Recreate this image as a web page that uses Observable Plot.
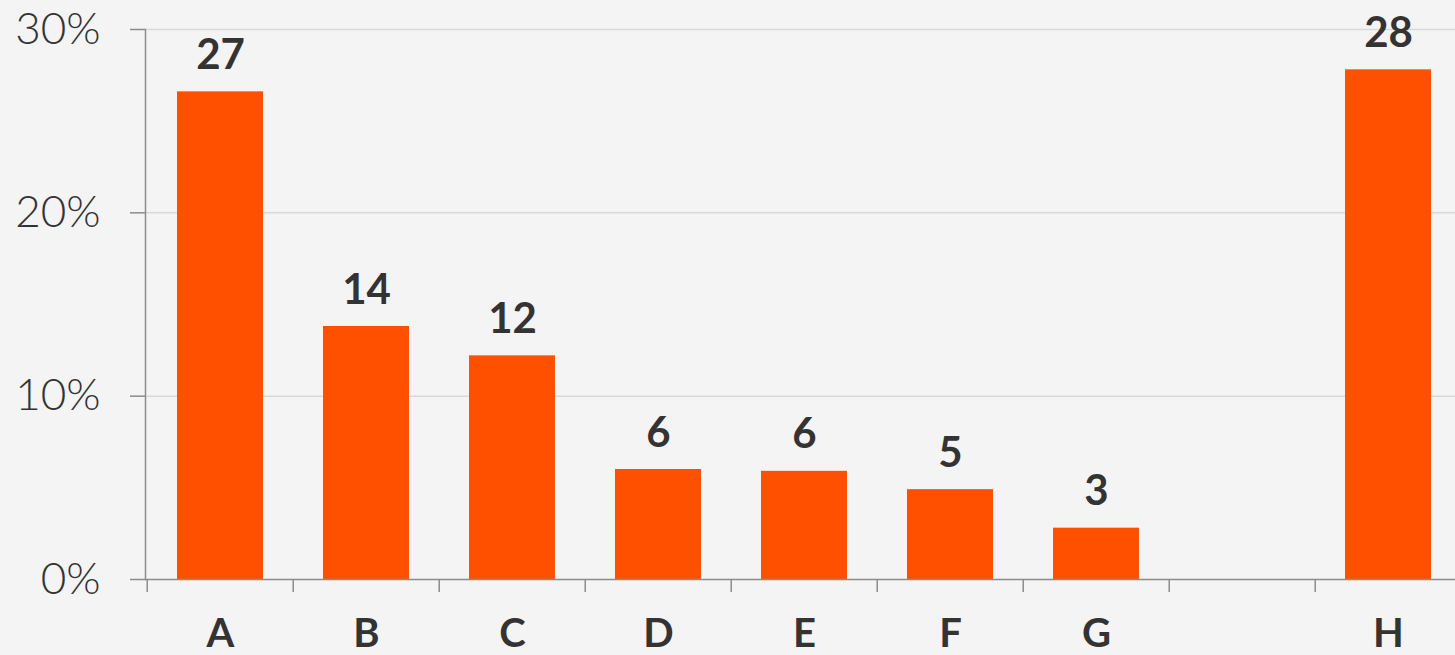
<!DOCTYPE html>
<html>
<head>
<meta charset="utf-8">
<script src="https://cdn.jsdelivr.net/npm/d3@7"></script>
<script src="https://cdn.jsdelivr.net/npm/@observablehq/plot@0.6"></script>
<style>
  html, body { margin: 0; padding: 0; background: #f4f4f4; overflow: hidden; width: 1455px; height: 655px; }
  #chart svg { display: block; max-width: none !important; }
</style>
</head>
<body>
<div id="chart"></div>
<script>
const categories = ["A", "B", "C", "D", "E", "F", "G", "", "H"];
const barCategories = ["A", "B", "C", "D", "E", "F", "G", "H"];
const values = [26.6, 13.8, 12.2, 6.0, 5.9, 4.9, 2.8, 27.8];
const labels = ["27", "14", "12", "6", "6", "5", "3", "28"];
const yTicks = [0, 10, 20, 30];
const gridTicks = [10, 20, 30];

const data = barCategories.map((c, i) => ({cat: c, value: values[i], label: labels[i]}));

const W = 1470, ML = 145, MR = 6;
const step = (W - ML - MR) / categories.length;

const chart = Plot.plot({
  width: W,
  height: 655,
  marginLeft: ML,
  marginRight: MR,
  marginTop: 29,
  marginBottom: 76,
  style: {background: "transparent", fontFamily: "Lato, 'Open Sans', sans-serif", color: "#333", maxWidth: "none"},
  x: {domain: categories, paddingInner: 0.41, paddingOuter: 0.205, label: null},
  y: {domain: [0, 30], label: null},
  marks: [
    Plot.gridY(gridTicks, {stroke: "#d9d9d9", strokeOpacity: 1, strokeWidth: 1.5}),
    Plot.frame({anchor: "left", stroke: "#8c8c8c", strokeWidth: 1.5}),
    Plot.axisY(yTicks, {tickSize: 15, fill: "none", stroke: "#8c8c8c", strokeWidth: 1.5, label: null, tickFormat: d => d + "%"}),
    Plot.axisY(yTicks, {tickSize: 0, tickPadding: 45, fill: "#333", fontSize: 44, fontWeight: 300, label: null, tickFormat: d => d + "%"}),
    Plot.barY(data, {x: "cat", y: "value", fill: "#ff5000"}),
    Plot.ruleY([0], {stroke: "#8c8c8c", strokeWidth: 1.5}),
    Plot.axisX(categories, {tickSize: 13, fill: "none", stroke: "#8c8c8c", strokeWidth: 1.5, label: null, dx: -step / 2}),
    Plot.axisX(categories, {tickSize: 0, tickPadding: 39, fill: "#333", fontSize: 40, fontWeight: "bold", label: null}),
    Plot.text(data, {x: "cat", y: "value", text: "label", dy: -23, lineAnchor: "bottom", fontSize: 42, fontWeight: "bold", fill: "#333"})
  ]
});
document.getElementById("chart").appendChild(chart);
</script>
</body>
</html>
